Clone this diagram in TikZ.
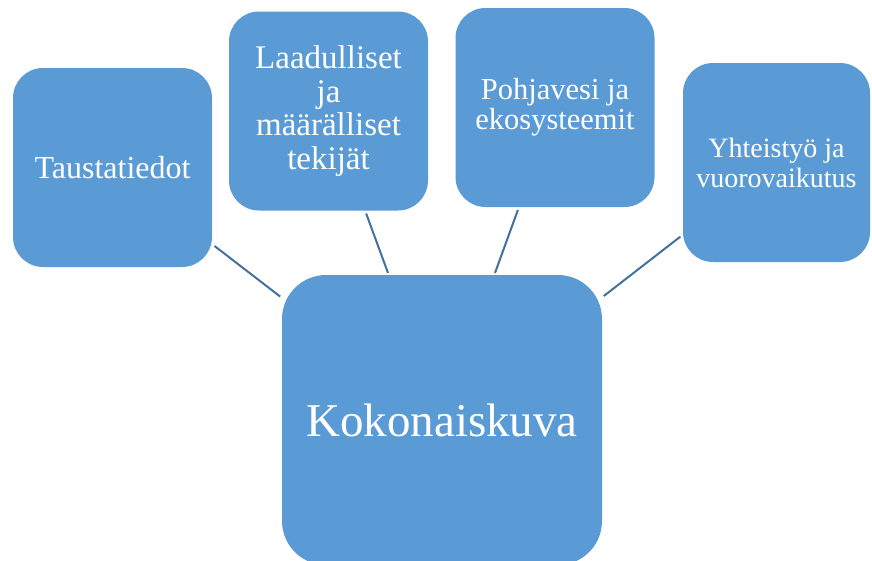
\documentclass[tikz,border=0pt]{standalone}
\usepackage{fontspec}
\setmainfont{Liberation Serif}
\definecolor{boxblue}{HTML}{5B9BD5}
\definecolor{linkblue}{HTML}{41719C}
\tikzset{
    box/.style={rectangle, rounded corners=30pt, fill=boxblue, text=white,
        align=center, inner sep=0pt, minimum width=199pt, minimum height=199pt},
    link/.style={draw=linkblue, line width=2pt, shorten <=3pt, shorten >=2pt}
}

\begin{document}
\begin{tikzpicture}[x=1pt,y=-1pt]
    \useasboundingbox (0,0) rectangle (872,560);
    \node[box, minimum width=320pt, minimum height=290pt, rounded corners=44pt,
        font=\fontsize{47}{50}\selectfont] (koko) at (442,420) {Kokonaiskuva};
    \node[box, font=\fontsize{32}{34}\selectfont] (tausta) at (112.5,167.5) {Taustatiedot};
    \node[box, font=\fontsize{33}{33.5}\selectfont] (laatu) at (328.5,111)
        {Laadulliset\\ja\\määrälliset\\tekijät};
    \node[box, font=\fontsize{30.5}{30}\selectfont] (pohja) at (555,107.5)
        {Pohjavesi ja\\ekosysteemit};
    \node[box, minimum width=187pt, font=\fontsize{28}{30}\selectfont] (yhteis) at (776.5,162.5)
        {Yhteistyö ja\\vuorovaikutus};
    \draw[link] (tausta) -- (koko);
    \draw[link] (laatu) -- (koko);
    \draw[link] (pohja) -- (koko);
    \draw[link] (yhteis) -- (koko);
\end{tikzpicture}
\end{document}
